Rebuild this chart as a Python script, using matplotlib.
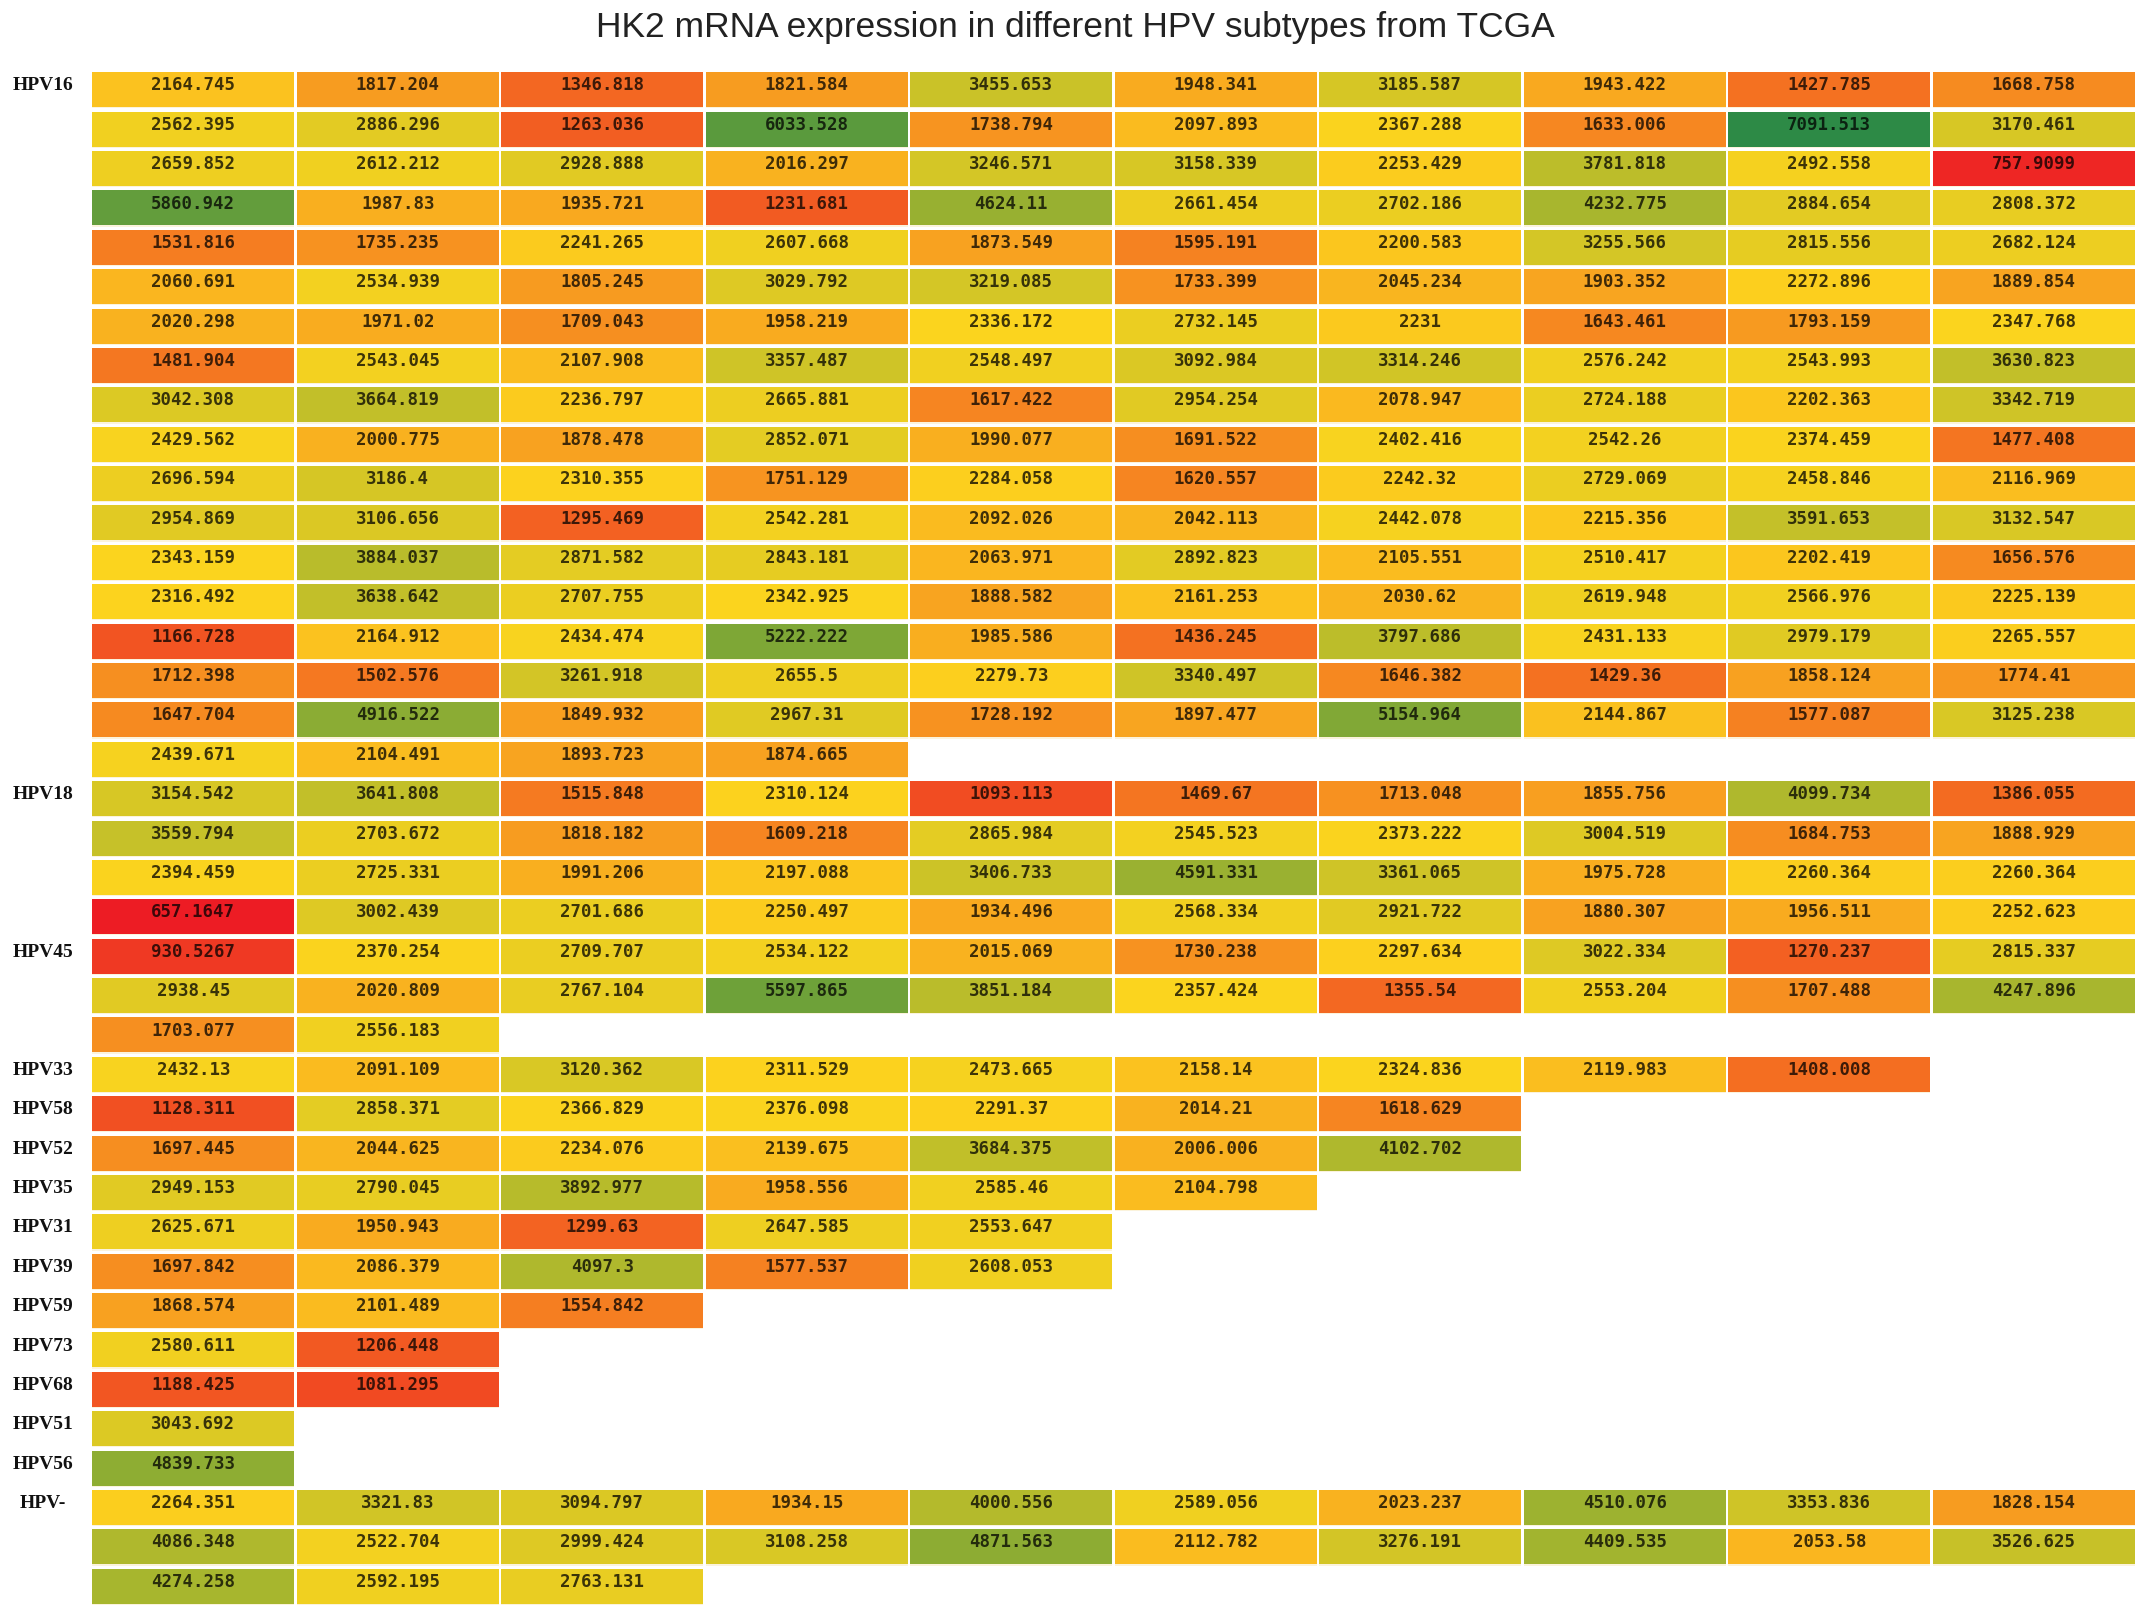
import numpy as np
import matplotlib
matplotlib.use("Agg")
import matplotlib.pyplot as plt
from matplotlib.colors import LinearSegmentedColormap, TwoSlopeNorm
from matplotlib.patches import Rectangle

# -----------------------------
# Data (HK2 mRNA values, read row by row, 10 per row)
# -----------------------------
hpv16 = [
    2164.745, 1817.204, 1346.818, 1821.584, 3455.653, 1948.341, 3185.587, 1943.422, 1427.785, 1668.758,
    2562.395, 2886.296, 1263.036, 6033.528, 1738.794, 2097.893, 2367.288, 1633.006, 7091.513, 3170.461,
    2659.852, 2612.212, 2928.888, 2016.297, 3246.571, 3158.339, 2253.429, 3781.818, 2492.558, 757.9099,
    5860.942, 1987.83, 1935.721, 1231.681, 4624.11, 2661.454, 2702.186, 4232.775, 2884.654, 2808.372,
    1531.816, 1735.235, 2241.265, 2607.668, 1873.549, 1595.191, 2200.583, 3255.566, 2815.556, 2682.124,
    2060.691, 2534.939, 1805.245, 3029.792, 3219.085, 1733.399, 2045.234, 1903.352, 2272.896, 1889.854,
    2020.298, 1971.02, 1709.043, 1958.219, 2336.172, 2732.145, 2231, 1643.461, 1793.159, 2347.768,
    1481.904, 2543.045, 2107.908, 3357.487, 2548.497, 3092.984, 3314.246, 2576.242, 2543.993, 3630.823,
    3042.308, 3664.819, 2236.797, 2665.881, 1617.422, 2954.254, 2078.947, 2724.188, 2202.363, 3342.719,
    2429.562, 2000.775, 1878.478, 2852.071, 1990.077, 1691.522, 2402.416, 2542.26, 2374.459, 1477.408,
    2696.594, 3186.4, 2310.355, 1751.129, 2284.058, 1620.557, 2242.32, 2729.069, 2458.846, 2116.969,
    2954.869, 3106.656, 1295.469, 2542.281, 2092.026, 2042.113, 2442.078, 2215.356, 3591.653, 3132.547,
    2343.159, 3884.037, 2871.582, 2843.181, 2063.971, 2892.823, 2105.551, 2510.417, 2202.419, 1656.576,
    2316.492, 3638.642, 2707.755, 2342.925, 1888.582, 2161.253, 2030.62, 2619.948, 2566.976, 2225.139,
    1166.728, 2164.912, 2434.474, 5222.222, 1985.586, 1436.245, 3797.686, 2431.133, 2979.179, 2265.557,
    1712.398, 1502.576, 3261.918, 2655.5, 2279.73, 3340.497, 1646.382, 1429.36, 1858.124, 1774.41,
    1647.704, 4916.522, 1849.932, 2967.31, 1728.192, 1897.477, 5154.964, 2144.867, 1577.087, 3125.238,
    2439.671, 2104.491, 1893.723, 1874.665,
]
hpv18 = [
    3154.542, 3641.808, 1515.848, 2310.124, 1093.113, 1469.67, 1713.048, 1855.756, 4099.734, 1386.055,
    3559.794, 2703.672, 1818.182, 1609.218, 2865.984, 2545.523, 2373.222, 3004.519, 1684.753, 1888.929,
    2394.459, 2725.331, 1991.206, 2197.088, 3406.733, 4591.331, 3361.065, 1975.728, 2260.364, 2260.364,
    657.1647, 3002.439, 2701.686, 2250.497, 1934.496, 2568.334, 2921.722, 1880.307, 1956.511, 2252.623,
]
hpv45 = [
    930.5267, 2370.254, 2709.707, 2534.122, 2015.069, 1730.238, 2297.634, 3022.334, 1270.237, 2815.337,
    2938.45, 2020.809, 2767.104, 5597.865, 3851.184, 2357.424, 1355.54, 2553.204, 1707.488, 4247.896,
    1703.077, 2556.183,
]
hpv33 = [2432.13, 2091.109, 3120.362, 2311.529, 2473.665, 2158.14, 2324.836, 2119.983, 1408.008]
hpv58 = [1128.311, 2858.371, 2366.829, 2376.098, 2291.37, 2014.21, 1618.629]
hpv52 = [1697.445, 2044.625, 2234.076, 2139.675, 3684.375, 2006.006, 4102.702]
hpv35 = [2949.153, 2790.045, 3892.977, 1958.556, 2585.46, 2104.798]
hpv31 = [2625.671, 1950.943, 1299.63, 2647.585, 2553.647]
hpv39 = [1697.842, 2086.379, 4097.3, 1577.537, 2608.053]
hpv59 = [1868.574, 2101.489, 1554.842]
hpv73 = [2580.611, 1206.448]
hpv68 = [1188.425, 1081.295]
hpv51 = [3043.692]
hpv56 = [4839.733]
hpv_neg = [
    2264.351, 3321.83, 3094.797, 1934.15, 4000.556, 2589.056, 2023.237, 4510.076, 3353.836, 1828.154,
    4086.348, 2522.704, 2999.424, 3108.258, 4871.563, 2112.782, 3276.191, 4409.535, 2053.58, 3526.625,
    4274.258, 2592.195, 2763.131,
]

group_labels = ["HPV16", "HPV18", "HPV45", "HPV33", "HPV58", "HPV52", "HPV35", "HPV31",
                "HPV39", "HPV59", "HPV73", "HPV68", "HPV51", "HPV56", "HPV-"]
group_values = [hpv16, hpv18, hpv45, hpv33, hpv58, hpv52, hpv35, hpv31,
                hpv39, hpv59, hpv73, hpv68, hpv51, hpv56, hpv_neg]

TITLE = "HK2 mRNA expression in different HPV subtypes from TCGA"
NCOL = 10

# -----------------------------
# Layout (pixels of the 2150x1616 figure)
# -----------------------------
W, H = 2150, 1616
LEFT, RIGHT = 91, 2136
TOP, PITCH = 72.3, 39.38
CELL_H = 0.889          # share of row pitch that is coloured
COL_GAP = 0.014         # white line between columns

# rows: each group is wrapped into rows of 10
rows = []
for lab, vals in zip(group_labels, group_values):
    for i in range(0, len(vals), NCOL):
        rows.append((lab if i == 0 else "", vals[i:i + NCOL]))
nrows = len(rows)

# Excel-style 3 colour scale: min red, median yellow, max green
all_vals = np.concatenate([np.asarray(v, dtype=float) for v in group_values])
cmap = LinearSegmentedColormap.from_list("xl3", ["#ed1c24", "#fcd41e", "#2d8a46"])
norm = TwoSlopeNorm(vmin=all_vals.min(), vcenter=np.median(all_vals), vmax=all_vals.max())

fig = plt.figure(figsize=(W / 100, H / 100), dpi=100)
fig.patch.set_facecolor("white")
ax = fig.add_axes([LEFT / W, 1 - (TOP + nrows * PITCH) / H,
                   (RIGHT - LEFT) / W, nrows * PITCH / H])
ax.set_xlim(0, NCOL)
ax.set_ylim(nrows, 0)
ax.axis("off")

for r, (lab, vals) in enumerate(rows):
    for c, v in enumerate(vals):
        ax.add_patch(Rectangle((c + COL_GAP / 2, r), 1 - COL_GAP, CELL_H,
                               facecolor=cmap(norm(v)), edgecolor="none"))
        # thin pale strip under each cell
        ax.add_patch(Rectangle((c + COL_GAP / 2, r + CELL_H), 1 - COL_GAP, 0.03,
                               facecolor="#fbf3dc", edgecolor="none"))
        ax.text(c + 0.5, r + 0.46, f"{v:.7g}", ha="center", va="baseline",
                fontsize=12.5, family="DejaVu Sans Mono", fontweight="bold",
                color="black", alpha=0.75)
    if lab:
        ax.text(-0.235, r + 0.46, lab, ha="center", va="baseline",
                fontsize=14, family="Liberation Serif", fontweight="bold", color="#111111")

fig.text(0.5, 1 - 27 / H, TITLE, ha="center", va="center",
         fontsize=25.5, family="Liberation Sans", color="#222222")

fig.savefig("out.png", dpi=100, facecolor="white")
